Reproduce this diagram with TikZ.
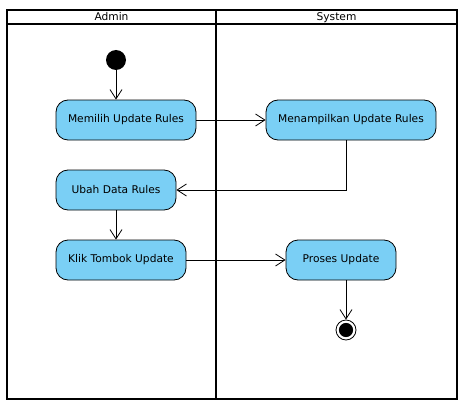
\documentclass[tikz,border=0pt]{standalone}
\usepackage{fontspec}
\setmainfont{DejaVu Sans}
\usetikzlibrary{arrows.meta}
\definecolor{actblue}{RGB}{122,207,245}
\tikzset{
  action/.style={draw, fill=actblue, rounded corners=9pt, minimum height=30pt, inner sep=0pt, line width=0.6pt, font=\fontsize{8}{10}\selectfont},
  flow/.style={line width=0.6pt, -{Straight Barb[length=7pt,width=9pt]}},
  lane/.style={line width=1.5pt},
  lanetitle/.style={anchor=base, inner sep=0pt, font=\fontsize{8}{10}\selectfont}
}
\begin{document}
\begin{tikzpicture}[x=0.75pt,y=-0.75pt]
\useasboundingbox (0,0) rectangle (471,410);
% swimlanes
\draw[lane] (7,10) rectangle (457,399);
\draw[lane] (7,24) -- (457,24);
\draw[lane] (216,10) -- (216,399);
\node[lanetitle] (admin) at (111.5,21) {Admin};
\node[lanetitle] (system) at (336.5,21) {System};
% activities
\node[circle, fill, minimum size=15pt, inner sep=0pt] (start) at (116,60) {};
\node[action, minimum width=105pt] (memilih) at (126,120) {Memilih Update Rules};
\node[action, minimum width=127.5pt] (tampil) at (351,120) {Menampilkan Update Rules};
\node[action, minimum width=90pt] (ubah) at (116,190) {Ubah Data Rules};
\node[action, minimum width=97.5pt] (klik) at (121,260) {Klik Tombok Update};
\node[action, minimum width=82.5pt] (proses) at (341,260) {Proses Update};
\node[circle, draw, line width=0.6pt, minimum size=15pt, inner sep=0pt] (finish) at (346,330) {};
\fill (finish) circle (5.3pt);
\coordinate (turn) at (346,190);
% flows
\draw[flow] (start) -- (start |- memilih.north);
\draw[flow] (memilih) -- (tampil);
\draw[flow] (tampil.south -| turn) -- (turn) -- (ubah.east);
\draw[flow] (ubah) -- (ubah |- klik.north);
\draw[flow] (klik) -- (proses);
\draw[flow] (proses.south -| finish) -- (finish);
\end{tikzpicture}
\end{document}
